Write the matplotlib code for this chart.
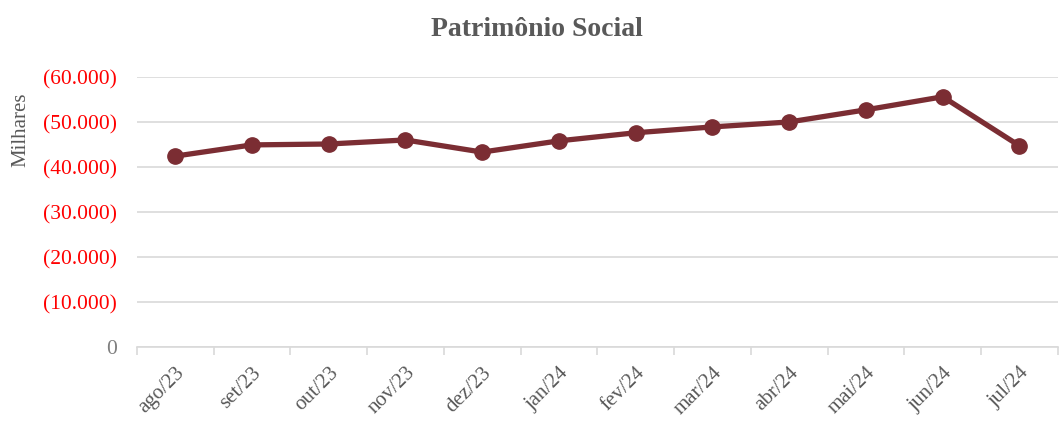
import matplotlib
matplotlib.use("Agg")
import matplotlib.pyplot as plt
from matplotlib.ticker import FuncFormatter, FixedLocator

# data (thousands of R$, shown as negatives in parentheses)
months = ["ago/23", "set/23", "out/23", "nov/23", "dez/23", "jan/24",
          "fev/24", "mar/24", "abr/24", "mai/24", "jun/24", "jul/24"]
patrimonio = [42400, 44900, 45100, 46000, 43300, 45800,
              47600, 48900, 50000, 52700, 55600, 44700]

plt.rcParams["font.family"] = ["Liberation Serif", "DejaVu Serif"]

fig = plt.figure(figsize=(10.6, 4.23), dpi=100)
ax = fig.add_axes([0.129, 0.180, 0.869, 0.638])

x = list(range(len(months)))
ax.plot(x, patrimonio, color="#7B2D33", linewidth=3.8, marker="o",
        markersize=11, solid_capstyle="round", zorder=3)

ax.set_xlim(-0.5, len(months) - 0.5)
ax.set_ylim(0, 60000)
ax.set_yticks(range(0, 60001, 10000))


def fmt(v, pos):
    if v == 0:
        return "0"
    return "({:,.0f})".format(v).replace(",", ".")


ax.yaxis.set_major_formatter(FuncFormatter(fmt))
ax.grid(axis="y", color="#D9D9D9", linewidth=1.2)
ax.set_axisbelow(True)

for s in ["top", "right", "left"]:
    ax.spines[s].set_visible(False)
ax.spines["bottom"].set_color("#D9D9D9")
ax.spines["bottom"].set_linewidth(1.2)

ax.tick_params(axis="y", length=0, pad=14, labelsize=15.5)
for lab in ax.get_yticklabels():
    lab.set_color("#FF0000" if lab.get_text() != "0" else "#7F7F7F")

ax.set_xticks(x)
ax.set_xticklabels(months, rotation=45, ha="right", rotation_mode="anchor",
                   fontsize=15, color="#595959")
ax.tick_params(axis="x", which="major", length=0, pad=12)
ax.xaxis.set_minor_locator(FixedLocator([i - 0.5 for i in range(len(months) + 1)]))
ax.tick_params(axis="x", which="minor", length=6, color="#D9D9D9", width=1.2)

fig.text(0.020, 0.693, "Milhares", rotation=90, fontsize=15, color="#595959",
         ha="center", va="center")
fig.suptitle("Patrimônio Social", x=0.507, y=0.93, fontsize=20,
             fontweight="bold", color="#595959", va="center")

fig.savefig("out.png", dpi=100)
